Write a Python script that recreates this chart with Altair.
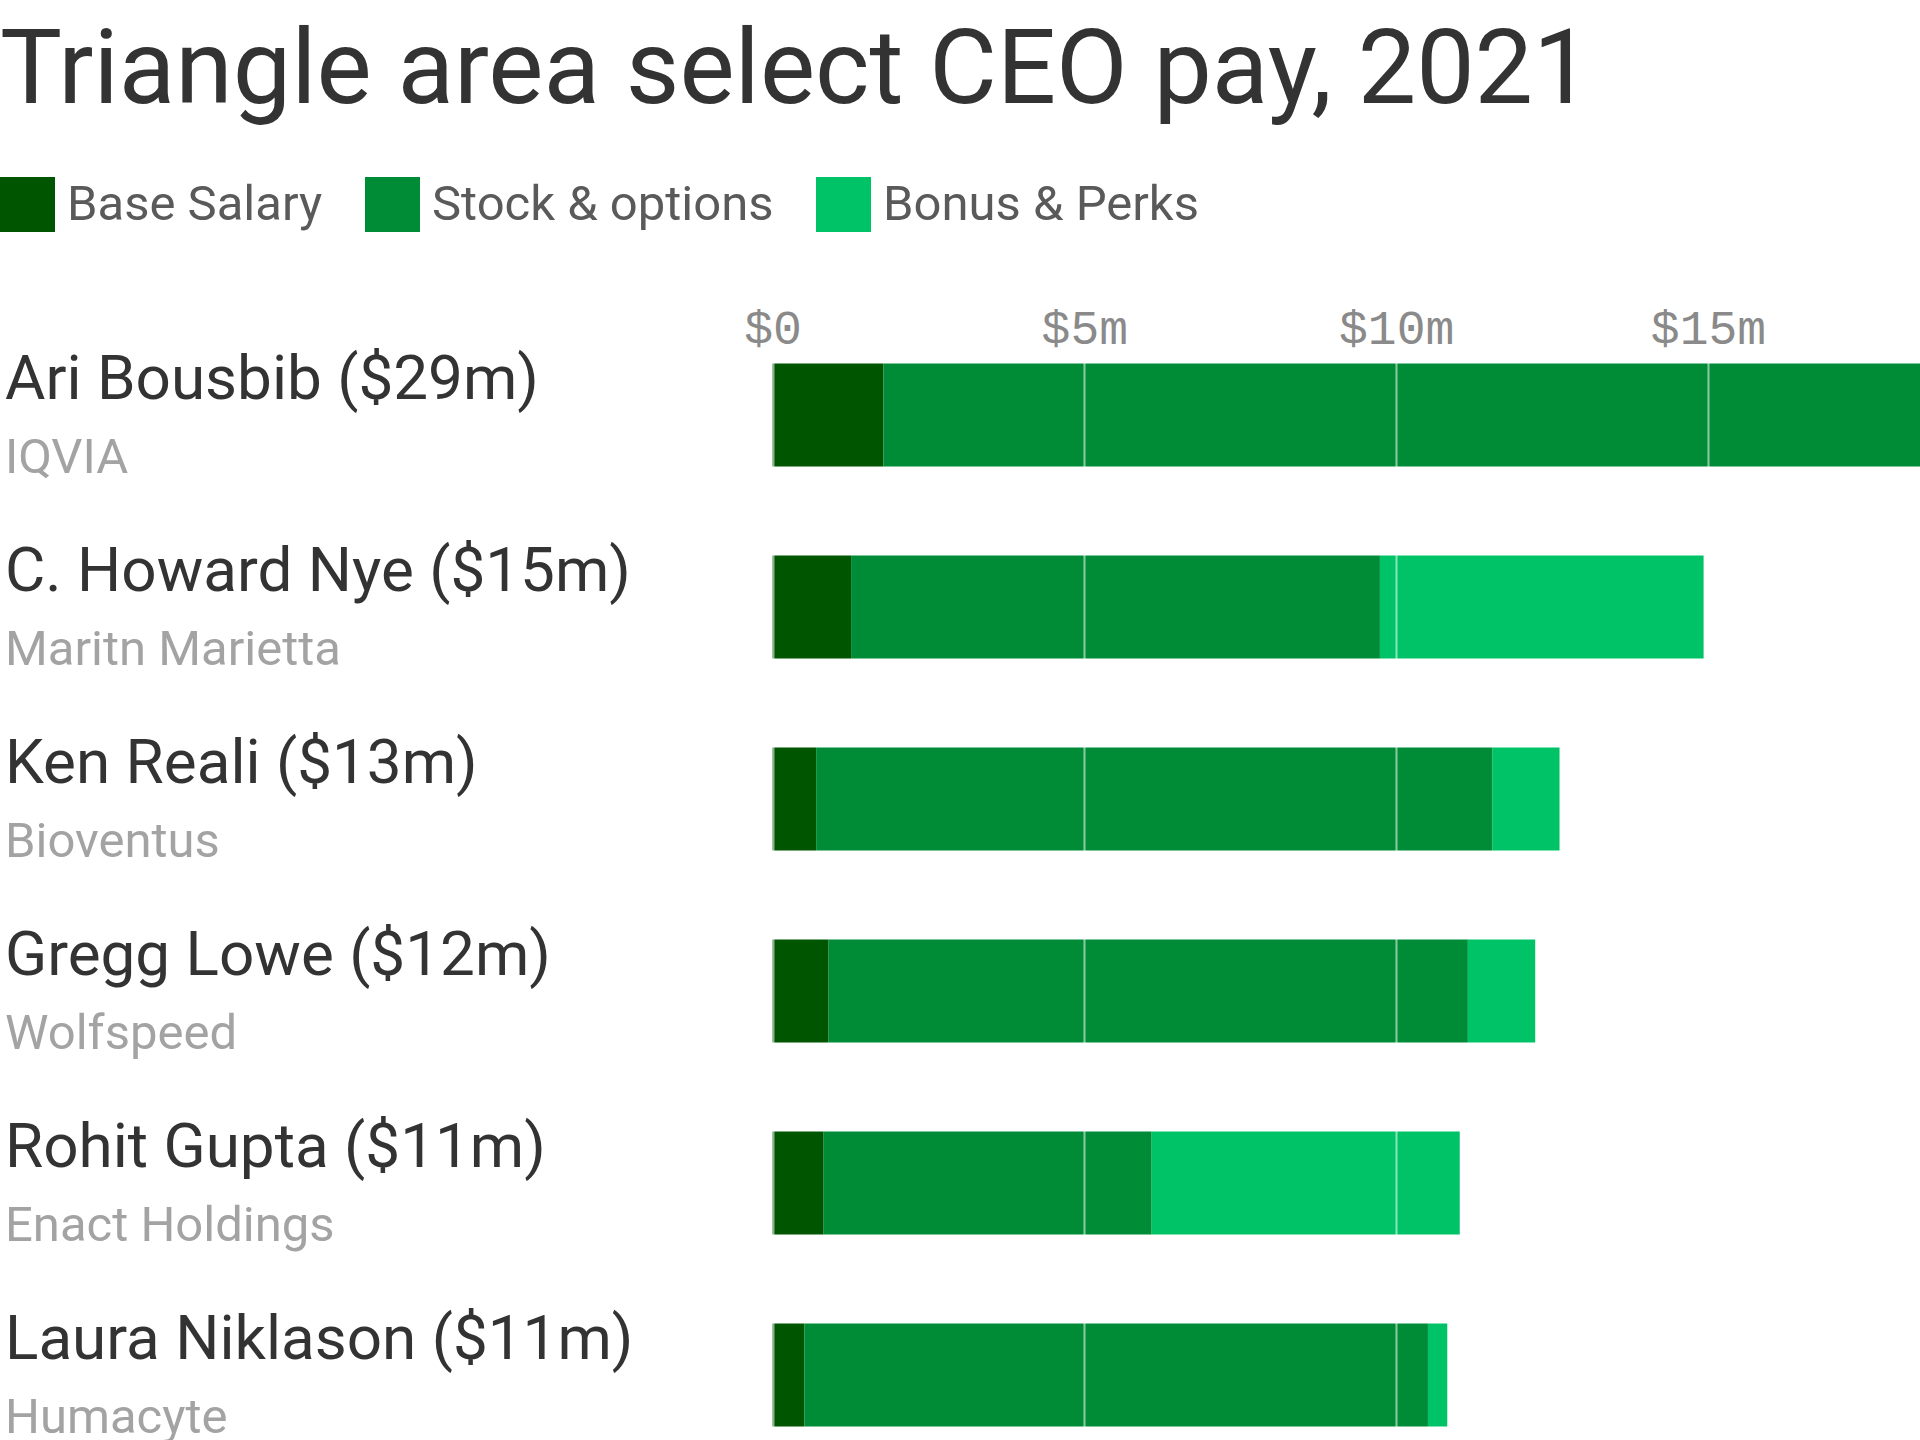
import altair as alt
import pandas as pd

# ---- data ----
names = ["Ari Bousbib ($29m)", "C. Howard Nye ($15m)", "Ken Reali ($13m)",
         "Gregg Lowe ($12m)", "Rohit Gupta ($11m)", "Laura Niklason ($11m)"]
companies = ["IQVIA", "Maritn Marietta", "Bioventus", "Wolfspeed",
             "Enact Holdings", "Humacyte"]
base_salary = [1.78, 1.26, 0.70, 0.90, 0.82, 0.51]
stock_options = [23.6, 8.48, 10.84, 10.25, 5.26, 10.00]
bonus_perks = [3.6, 5.19, 1.08, 1.08, 4.94, 0.31]

segments = ["Base Salary", "Stock & options", "Bonus & Perks"]
seg_colors = ["#005500", "#008b37", "#00c267"]
tick_values = [0, 5, 10, 15]

rows = []
for i, n in enumerate(names):
    for k, (seg, vals) in enumerate(zip(segments, [base_salary, stock_options, bonus_perks])):
        rows.append({"name": n, "segment": seg, "value": vals[i], "order": k})
bars_df = pd.DataFrame(rows)
labels_df = pd.DataFrame({"name": names, "company": companies})

FONT = "Roboto"

yscale = alt.Scale(domain=names, paddingInner=0.464, paddingOuter=0.0705)
xscale = alt.Scale(domain=[0, 18.4], range=[772.5, 1920], nice=False, zero=True)

bars = alt.Chart(bars_df).mark_bar(clip=True).encode(
    x=alt.X("value:Q", stack="zero", scale=xscale,
            axis=alt.Axis(orient="top", values=tick_values, title=None, domain=False,
                          ticks=False, grid=True, gridColor="white", gridOpacity=0.55,
                          gridWidth=2, zindex=1, labelFont="Liberation Mono",
                          labelFontSize=48, labelColor="#8a8a8a", labelPadding=-3,
                          labelFlush=False,
                          labelExpr="datum.value == 0 ? '$0' : '$' + datum.value + 'm'")),
    x2=alt.X2(),
    y=alt.Y("name:N", sort=names, scale=yscale, axis=None),
    color=alt.Color("segment:N", sort=segments,
                    scale=alt.Scale(domain=segments, range=seg_colors),
                    legend=alt.Legend(title=None, orient="none", legendX=0, legendY=-173,
                                      direction="horizontal", symbolType="square",
                                      symbolSize=3025, symbolStrokeWidth=0,
                                      labelFont=FONT, labelFontSize=49, labelLimit=0,
                                      labelColor="#5a5a5a", labelOffset=12,
                                      columnPadding=42, padding=0)),
    order=alt.Order("order:Q"),
)

name_text = alt.Chart(labels_df).mark_text(
    align="left", baseline="alphabetic", dy=-16, font=FONT, fontSize=62, color="#333333"
).encode(x=alt.value(5), y=alt.Y("name:N", sort=names, scale=yscale, axis=None), text="name:N")

company_text = alt.Chart(labels_df).mark_text(
    align="left", baseline="alphabetic", dy=58, font=FONT, fontSize=49, color="#a3a3a3"
).encode(x=alt.value(5), y=alt.Y("name:N", sort=names, scale=yscale, axis=None), text="company:N")

chart = alt.layer(bars, name_text, company_text).properties(
    width=1920, height=1090,
    autosize=alt.AutoSizeParams(type="none"),
    padding={"left": 0, "top": 350, "right": 0, "bottom": 0},
    background="white",
    title=alt.TitleParams("Triangle area select CEO pay, 2021", anchor="start",
                          font=FONT, fontSize=104, fontWeight="normal",
                          color="#333333", baseline="alphabetic", offset=-30),
).configure_view(stroke=None)

chart.save("out.html", embed_options={"renderer": "svg", "actions": False})
